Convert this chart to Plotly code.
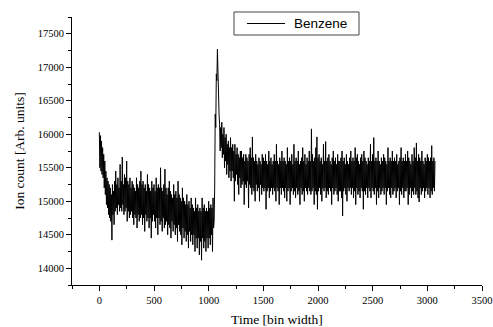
import plotly.graph_objects as go

# Time axis: one reading every 5 bins, starting at bin 0
bin_step = 5

# Ion count readings (alternating local highs / lows), 100 bins per row
ion_count = [
    16030, 15500, 15980, 15450, 15900, 15400, 15800, 15350, 15700, 15200, 15600, 15100, 15450, 14950, 15350, 14900, 15300, 14800, 15250, 14750,
    15200, 14700, 15100, 14420, 15250, 14800, 15150, 14650, 15300, 14850, 15450, 14900, 15250, 14800, 15350, 14950, 15200, 14850, 15550, 14900,
    15300, 14850, 15660, 14950, 15250, 14800, 15400, 14850, 15350, 14900, 15600, 14700, 15300, 14850, 15250, 14750, 15350, 14800, 15200, 14850,
    15300, 14750, 15250, 14650, 15200, 14800, 15150, 14750, 15350, 14600, 15250, 14800, 15200, 14700, 15300, 14750, 15450, 14800, 15250, 14650,
    15300, 14750, 15200, 14550, 15250, 14800, 15150, 14700, 15400, 14750, 15250, 14600, 15200, 14750, 15150, 14450, 15300, 14700, 15200, 14800,
    15250, 14700, 15150, 14600, 15350, 14750, 15200, 14500, 15250, 14750, 15200, 14650, 15500, 14700, 15200, 14550, 15150, 14750, 15250, 14600,
    15480, 14650, 15200, 14700, 15100, 14500, 15200, 14650, 15300, 14600, 15150, 14450, 15100, 14700, 15050, 14550, 15250, 14650, 15100, 14500,
    15150, 14600, 15050, 14400, 15300, 14650, 15100, 14550, 15050, 14500, 15000, 14350, 15200, 14600, 15050, 14450, 15000, 14550, 14950, 14400,
    15100, 14500, 14950, 14300, 15000, 14550, 14900, 14400, 15050, 14500, 14950, 14350, 14900, 14500, 14850, 14250, 15050, 14450, 14900, 14300,
    14950, 14450, 14850, 14200, 14900, 14400, 14850, 14120, 15050, 14450, 14900, 14300, 14950, 14400, 14850, 14250, 14900, 14450, 14850, 14300,
    15000, 14450, 14900, 14350, 14950, 14500, 14900, 14250, 15050, 14600, 14700, 15200, 16300, 16100, 16900, 16800, 17270, 16700, 16600, 16300,
    16150, 15750, 16100, 15800, 16180, 15650, 16000, 15700, 16100, 15500, 15950, 15600, 16000, 15400, 15850, 15550, 15900, 15350, 15800, 15450,
    15950, 15300, 15800, 15450, 15850, 15350, 15750, 15000, 15850, 15300, 15700, 15400, 15800, 15250, 15700, 15100, 15650, 15350, 15750, 15200,
    15750, 15250, 15650, 15300, 15700, 14950, 15600, 15250, 15700, 15200, 15650, 15300, 15600, 14900, 15700, 15250, 15800, 15200, 15650, 15100,
    15960, 15200, 15650, 15150, 15600, 15000, 15700, 15250, 15600, 15150, 15550, 15200, 15650, 15000, 15600, 15250, 15550, 15100, 15700, 15200,
    15650, 15150, 15600, 15200, 15700, 14880, 15600, 15150, 15550, 15200, 15750, 15050, 15600, 15150, 15650, 15200, 15550, 15100, 15600, 15200,
    15700, 15150, 15600, 15000, 15850, 15200, 15600, 15150, 15550, 14950, 15650, 15200, 15600, 15100, 15750, 15200, 15600, 15150, 15650, 15050,
    15600, 15200, 15550, 15000, 15800, 15150, 15600, 15200, 15650, 14950, 15600, 15150, 15700, 15200, 15550, 15100, 15850, 15150, 15600, 15050,
    15650, 15200, 15600, 15100, 15750, 15150, 15550, 14950, 15600, 15200, 15650, 15100, 15800, 15150, 15600, 15000, 15700, 15200, 15550, 15150,
    15650, 15100, 15600, 15200, 15750, 15150, 15600, 15100, 16080, 15150, 15700, 15200, 15600, 14950, 15650, 15150, 15800, 15100, 15960, 14880,
    15650, 15150, 15700, 15200, 15600, 15100, 15650, 15000, 15550, 15200, 15850, 15150, 15600, 15200, 15890, 15050, 15600, 15150, 15650, 15100,
    15700, 15200, 15600, 15150, 15550, 14950, 15650, 15200, 15750, 15100, 15600, 15150, 15650, 15200, 15550, 15100, 15700, 15000, 15600, 15150,
    15600, 15150, 15650, 15050, 15750, 14780, 15600, 15150, 15650, 15200, 15550, 15100, 15700, 15000, 15600, 15200, 15550, 15150, 15650, 15200,
    15750, 15100, 15600, 15200, 15650, 15050, 15600, 15150, 15800, 14950, 15650, 15200, 15700, 15100, 15600, 15150, 15550, 15050, 15650, 15200,
    15700, 15150, 15600, 14880, 15750, 15150, 15650, 15100, 15600, 15200, 15550, 15050, 15650, 15200, 15600, 15150, 15850, 15050, 15600, 15200,
    15700, 15150, 15950, 15100, 15600, 15200, 15650, 14950, 15600, 15150, 15750, 15050, 15600, 15200, 15550, 15100, 15650, 15150, 15600, 15200,
    15700, 15100, 15650, 15200, 15600, 14950, 15550, 15150, 15800, 15200, 15600, 15100, 15650, 15050, 15600, 15200, 15750, 15100, 15600, 15150,
    15650, 15200, 15600, 15050, 15700, 15150, 15550, 15200, 15600, 14950, 15650, 15150, 15800, 15100, 15600, 15200, 15650, 15050, 15600, 15150,
    15700, 15150, 15600, 15200, 15750, 14950, 15650, 15100, 15600, 15200, 15550, 15050, 15700, 15150, 15600, 15100, 15800, 15200, 15650, 15100,
    15870, 15150, 15600, 15050, 15700, 14990, 15650, 15200, 15600, 15100, 15750, 15150, 15600, 15200, 15550, 15050, 15650, 15150, 15600, 15200,
    15700, 15100, 15650, 15200, 15600, 15050, 15650, 15150, 15830, 15100, 15600, 15200, 15650, 15150, 15600,
]
time_bins = list(range(0, bin_step * len(ion_count), bin_step))

series_name = "Benzene"
x_title = "Time [bin width]"
y_title = "Ion count [Arb. units]"

fig = go.Figure()
fig.add_trace(go.Scatter(
    x=time_bins, y=ion_count, mode="lines", name=series_name,
    line=dict(color="black", width=1), showlegend=False,
))

serif = "Liberation Serif, Times New Roman, serif"
axis_common = dict(
    showline=True, linecolor="black", linewidth=1, mirror=False,
    showgrid=False, zeroline=False, automargin=False,
    ticks="outside", ticklen=5, tickwidth=1, tickcolor="black",
    tickformat="d", ticklabeloverflow="allow",
    tickfont=dict(family=serif, size=10.5, color="black"),
)

# Legend key drawn as a boxed line sample + label (paper coordinates)
key_box = dict(x0=0.3951, x1=0.7000, y0=0.9328, y1=1.0187)
key_line = dict(x0=0.4268, x1=0.5195, y=0.9757)
key_text_x = 0.5366

fig.update_layout(
    width=493, height=327,
    margin=dict(l=72, r=11, t=17, b=42),
    paper_bgcolor="white", plot_bgcolor="white",
    showlegend=False,
    xaxis=dict(
        range=[-250, 3500], tick0=0, dtick=500,
        minor=dict(dtick=250, ticks="outside", ticklen=3, tickcolor="black"),
        title=dict(text=x_title, font=dict(family=serif, size=13.5, color="black"), standoff=10),
        **axis_common,
    ),
    yaxis=dict(
        range=[13750, 17750], tick0=0, dtick=500,
        minor=dict(dtick=250, ticks="outside", ticklen=3, tickcolor="black"),
        title=dict(text=y_title, font=dict(family=serif, size=13.5, color="black"), standoff=9),
        **axis_common,
    ),
    shapes=[
        dict(type="rect", xref="paper", yref="paper", **key_box,
             line=dict(color="#444", width=1), fillcolor="white", layer="above"),
        dict(type="line", xref="paper", yref="paper",
             x0=key_line["x0"], x1=key_line["x1"], y0=key_line["y"], y1=key_line["y"],
             line=dict(color="black", width=1), layer="above"),
    ],
    annotations=[
        dict(text=series_name, xref="paper", yref="paper", x=key_text_x, y=key_line["y"],
             xanchor="left", yanchor="middle", showarrow=False,
             font=dict(family="Liberation Sans, Arial, sans-serif", size=13.5, color="black")),
    ],
)

# remove the default page margin so the figure sits at the window's top-left corner
fig.write_html("out.html", config={"displayModeBar": False},
               post_script="document.body.style.margin='0';")
